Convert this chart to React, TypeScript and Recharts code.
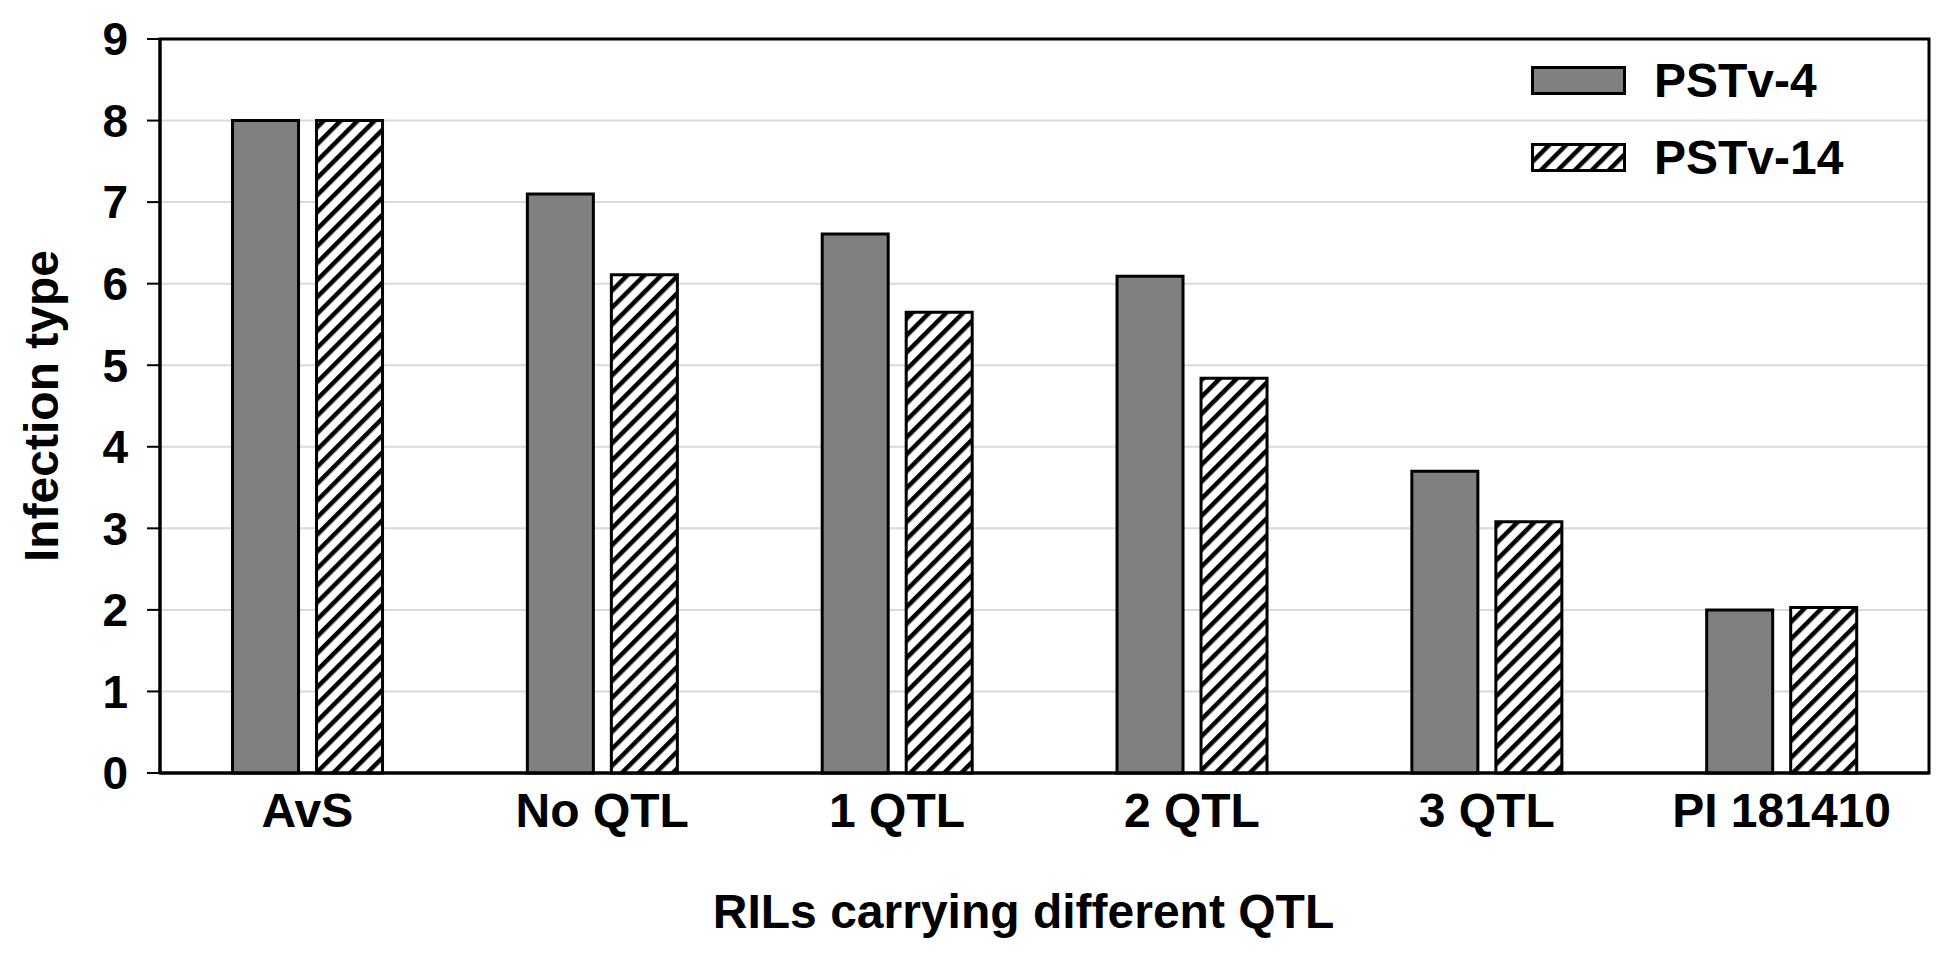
import React from 'react';
import { BarChart, Bar, XAxis, YAxis, CartesianGrid, Legend, ReferenceArea, Label } from 'recharts';

// values
const categories = ['AvS', 'No QTL', '1 QTL', '2 QTL', '3 QTL', 'PI 181410'];
const pstv4Values = [8.0, 7.1, 6.61, 6.09, 3.7, 2.0];
const pstv14Values = [8.0, 6.11, 5.65, 4.84, 3.08, 2.03];
const yTicks = [0, 1, 2, 3, 4, 5, 6, 7, 8, 9];
const seriesNames = ['PSTv-4', 'PSTv-14'];

const chartData = categories.map((name, i) => ({
    name,
    pstv4: pstv4Values[i],
    pstv14: pstv14Values[i],
}));

const FONT = '"Liberation Sans", Arial, sans-serif';
const GRAY = '#808080';

const HatchDef = ({ id }: { id: string }) => (
    <pattern id={id} width={12} height={12} patternUnits="userSpaceOnUse" patternTransform="rotate(45)">
        <rect x={0} y={0} width={12} height={12} fill="#fff" />
        <rect x={0} y={0} width={4.5} height={12} fill="#000" />
    </pattern>
);

// legend ใช้ html ธรรมดา
const LegendContent = () => (
    <div style={{ fontFamily: FONT, fontWeight: 'bold', fontSize: 48, color: '#000' }}>
        {seriesNames.map((name, i) => (
            <div key={name} style={{ display: 'flex', alignItems: 'center', height: 77 }}>
                <svg width={95} height={29} style={{ display: 'block' }}>
                    <defs><HatchDef id={`legHatch${i}`} /></defs>
                    <rect x={1.5} y={1.5} width={92} height={26} fill={i === 0 ? GRAY : `url(#legHatch${i})`} stroke="#000" strokeWidth={3} />
                </svg>
                <span style={{ marginLeft: 28, lineHeight: 1 }}>{name}</span>
            </div>
        ))}
    </div>
);

const YTitle = (props: any) => {
    const vb = props.viewBox;
    const cx = vb.x / 2;
    const cy = vb.y + vb.height / 2;
    return (
        <text x={cx} y={cy} transform={`rotate(-90 ${cx} ${cy})`} textAnchor="middle" dominantBaseline="central"
            style={{ fontFamily: FONT, fontWeight: 'bold', fontSize: 48, fill: '#000' }}>
            Infection type
        </text>
    );
};

const XTitle = (props: any) => {
    const vb = props.viewBox;
    return (
        <text x={vb.x + vb.width / 2 - 21} y={vb.y + vb.height + 95} textAnchor="middle"
            style={{ fontFamily: FONT, fontWeight: 'bold', fontSize: 48, fill: '#000' }}>
            RILs carrying different QTL
        </text>
    );
};

export default function App() {
    return (
        <div style={{ position: 'absolute', left: 0, top: 0, width: 1955, height: 960, background: '#fff' }}>
            <BarChart
                width={1955}
                height={960}
                data={chartData}
                margin={{ top: 39, right: 26, left: 82, bottom: 127 }}
                barCategoryGap="24.6%"
                barGap={18}
            >
                <defs>
                    <HatchDef id="barHatch" />
                </defs>
                <CartesianGrid horizontal vertical={false} stroke="#d9d9d9" strokeWidth={2} />
                <ReferenceArea y1={0} y2={9} stroke="#000" strokeWidth={3} fill="none" fillOpacity={0} ifOverflow="visible" />
                <XAxis
                    dataKey="name"
                    axisLine={{ stroke: '#000', strokeWidth: 3 }}
                    tickLine={false}
                    tickSize={0}
                    tickMargin={20}
                    height={60}
                    interval={0}
                    tick={{ fontFamily: FONT, fontWeight: 'bold', fontSize: 48, fill: '#000' }}
                >
                    <Label content={<XTitle />} />
                </XAxis>
                <YAxis
                    domain={[0, 9]}
                    ticks={yTicks}
                    interval={0}
                    width={78}
                    axisLine={{ stroke: '#000', strokeWidth: 3 }}
                    tickLine={{ stroke: '#000', strokeWidth: 2 }}
                    tickSize={13}
                    tickMargin={19}
                    tick={{ fontFamily: FONT, fontWeight: 'bold', fontSize: 46, fill: '#000' }}
                >
                    <Label content={<YTitle />} />
                </YAxis>
                <Legend
                    layout="vertical"
                    align="center"
                    verticalAlign="middle"
                    content={<LegendContent />}
                    wrapperStyle={{ top: 42, left: 1531, width: 'auto' }}
                />
                <Bar dataKey="pstv4" name={seriesNames[0]} fill={GRAY} stroke="#000" strokeWidth={3} isAnimationActive={false} />
                <Bar dataKey="pstv14" name={seriesNames[1]} fill="url(#barHatch)" stroke="#000" strokeWidth={3} isAnimationActive={false} />
            </BarChart>
        </div>
    );
}
